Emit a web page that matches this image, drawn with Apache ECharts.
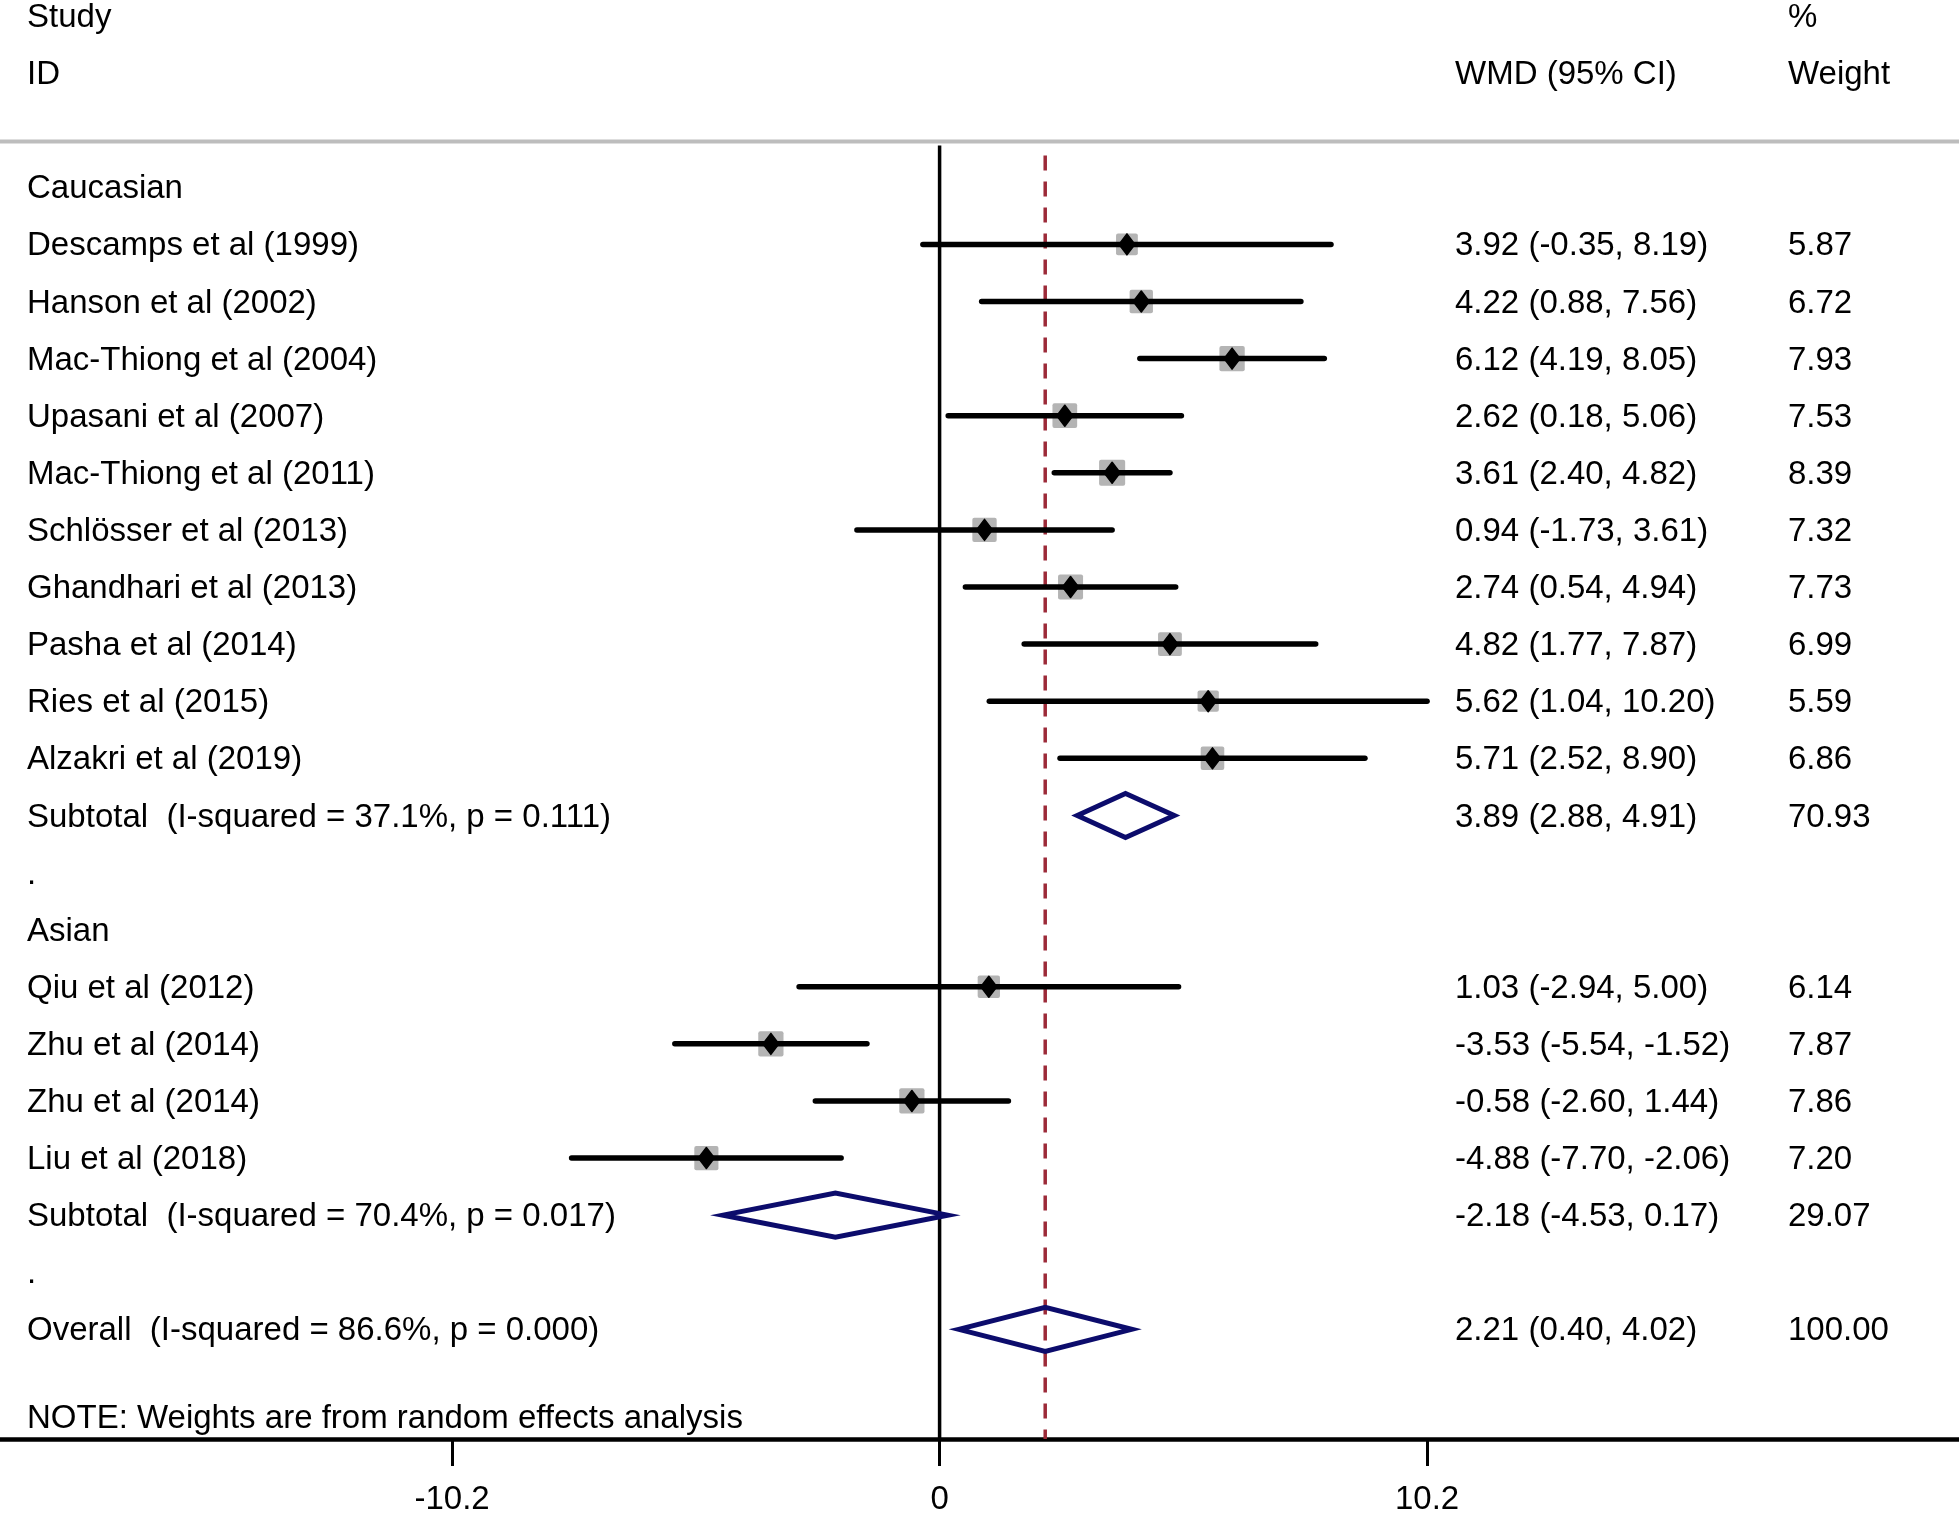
<!DOCTYPE html>
<html>
<head>
<meta charset="utf-8">
<script src="https://cdn.jsdelivr.net/npm/echarts@6/dist/echarts.min.js"></script>
<style>
html, body { margin: 0; padding: 0; background: #fff; }
#chart { width: 1959px; height: 1516px; }
</style>
</head>
<body>
<div id="chart"></div>
<script>
// study data (WMD, 95% CI, % weight)
var groupNames = ['Caucasian', 'Asian'];

var cauStudies = ['Descamps et al (1999)', 'Hanson et al (2002)', 'Mac-Thiong et al (2004)', 'Upasani et al (2007)',
	'Mac-Thiong et al (2011)', 'Schlösser et al (2013)', 'Ghandhari et al (2013)', 'Pasha et al (2014)',
	'Ries et al (2015)', 'Alzakri et al (2019)'];
var cauEst = [3.92, 4.22, 6.12, 2.62, 3.61, 0.94, 2.74, 4.82, 5.62, 5.71];
var cauLow = [-0.35, 0.88, 4.19, 0.18, 2.40, -1.73, 0.54, 1.77, 1.04, 2.52];
var cauHigh = [8.19, 7.56, 8.05, 5.06, 4.82, 3.61, 4.94, 7.87, 10.20, 8.90];
var cauWeight = [5.87, 6.72, 7.93, 7.53, 8.39, 7.32, 7.73, 6.99, 5.59, 6.86];

var asiStudies = ['Qiu et al (2012)', 'Zhu et al (2014)', 'Zhu et al (2014)', 'Liu et al (2018)'];
var asiEst = [1.03, -3.53, -0.58, -4.88];
var asiLow = [-2.94, -5.54, -2.60, -7.70];
var asiHigh = [5.00, -1.52, 1.44, -2.06];
var asiWeight = [6.14, 7.87, 7.86, 7.20];

// pooled: Caucasian subtotal, Asian subtotal, overall
var pooledLabels = ['Subtotal  (I-squared = 37.1%, p = 0.111)', 'Subtotal  (I-squared = 70.4%, p = 0.017)',
	'Overall  (I-squared = 86.6%, p = 0.000)'];
var pooledEst = [3.89, -2.18, 2.21];
var pooledLow = [2.88, -4.53, 0.40];
var pooledHigh = [4.91, 0.17, 4.02];
var pooledWeight = [70.93, 29.07, 100.00];

var tickValues = [-10.2, 0, 10.2];
var noteText = 'NOTE: Weights are from random effects analysis';

// layout
var W = 1959;
var FONT = '33px "Liberation Sans", Arial, sans-serif';
var colX = [27, 1455, 1788];
var AXIS_ROW = 21.92;

function ci(e, l, h){
	return e.toFixed(2) + ' (' + l.toFixed(2) + ', ' + h.toFixed(2) + ')';
}

// build the rows, one per line of the plot
var rows = [];
rows.push({y: -3, cells: ['Study', '', '%']});
rows.push({y: -2, cells: ['ID', 'WMD (95% CI)', 'Weight']});
rows.push({y: -0.8, kind: 'rule', cells: []});

var yy = 0;
function addGroup(g, names, est, low, high, wt){
	rows.push({y: yy++, cells: [groupNames[g]]});
	for(var i=0; i<names.length; i++){
		rows.push({y: yy++, kind: 'study', est: est[i], lo: low[i], hi: high[i], w: wt[i],
			cells: [names[i], ci(est[i], low[i], high[i]), wt[i].toFixed(2)]});
	}
	rows.push({y: yy++, kind: 'pooled', est: pooledEst[g], lo: pooledLow[g], hi: pooledHigh[g],
		cells: [pooledLabels[g], ci(pooledEst[g], pooledLow[g], pooledHigh[g]), pooledWeight[g].toFixed(2)]});
	rows.push({y: yy++, cells: ['.']});
}
addGroup(0, cauStudies, cauEst, cauLow, cauHigh, cauWeight);
addGroup(1, asiStudies, asiEst, asiLow, asiHigh, asiWeight);
rows.push({y: yy++, kind: 'pooled', est: pooledEst[2], lo: pooledLow[2], hi: pooledHigh[2],
	cells: [pooledLabels[2], ci(pooledEst[2], pooledLow[2], pooledHigh[2]), pooledWeight[2].toFixed(2)]});
rows.push({y: 21.53, cells: [noteText]});

function txt(s, x, y){
	return {type: 'text', style: {text: s, x: x, y: y + 2, font: FONT, fill: '#000',
		textAlign: 'left', textVerticalAlign: 'middle', align: 'left', verticalAlign: 'middle'}};
}

function renderRow(params, api){
	var r = rows[api.value(1)];
	var cy = api.coord([0, r.y])[1];
	var kids = [];
	if(r.kind === 'rule'){
		kids.push({type: 'line', shape: {x1: 0, y1: cy, x2: W, y2: cy}, style: {stroke: '#bdbdbd', lineWidth: 4}});
	}
	if(r.kind === 'study'){
		var pE = api.coord([r.est, r.y])[0];
		var pL = api.coord([r.lo, r.y])[0];
		var pH = api.coord([r.hi, r.y])[0];
		var side = 9 * Math.sqrt(r.w);
		kids.push({type: 'rect', shape: {x: pE - side/2, y: cy - side/2, width: side, height: side, r: 2},
			style: {fill: '#b4b4b4'}});
		kids.push({type: 'line', shape: {x1: pL, y1: cy, x2: pH, y2: cy},
			style: {stroke: '#000', lineWidth: 5.5, lineCap: 'round'}});
		kids.push({type: 'polygon', shape: {points: [[pE-8, cy], [pE, cy-10.5], [pE+8, cy], [pE, cy+10.5]]},
			style: {fill: '#000', stroke: '#000', lineWidth: 1.5, lineJoin: 'round'}});
	}
	if(r.kind === 'pooled'){
		var qE = api.coord([r.est, r.y])[0];
		var qL = api.coord([r.lo, r.y])[0];
		var qH = api.coord([r.hi, r.y])[0];
		kids.push({type: 'polygon', shape: {points: [[qL, cy], [qE, cy-22], [qH, cy], [qE, cy+22]]},
			style: {fill: 'none', stroke: '#0c0c6c', lineWidth: 5}});
	}
	for(var c=0; c<r.cells.length; c++){
		if(r.cells[c]) kids.push(txt(r.cells[c], colX[c], cy));
	}
	return {type: 'group', children: kids};
}

function renderRef(params, api){
	var x = api.coord([api.value(0), 0])[0];
	var top = api.coord([0, -0.73])[1];
	var bot = api.coord([0, AXIS_ROW])[1];
	var dashed = api.value(1) === 1;
	return {type: 'line', shape: {x1: x, y1: top, x2: x, y2: bot},
		style: dashed ? {stroke: '#9c2a38', lineWidth: 3.5, lineDash: [15, 11], lineDashOffset: -10}
			: {stroke: '#000', lineWidth: 3.5}};
}

var myChart = echarts.init(document.getElementById('chart'));

option = {
	animation: false,
	backgroundColor: '#fff',
	grid: {left: 0, right: 0, top: 0, bottom: 71},
	xAxis: {
		type: 'value',
		min: -19.66,
		max: 21.33,
		splitLine: {show: false},
		axisLine: {show: true, onZero: false, lineStyle: {color: '#000', width: 4.5}},
		axisTick: {show: true, customValues: tickValues, length: 27, lineStyle: {color: '#000', width: 3}},
		axisLabel: {customValues: tickValues, margin: 44, color: '#000', fontSize: 33,
			fontFamily: '"Liberation Sans", Arial, sans-serif',
			formatter: function(v){ return v === 0 ? '0' : String(v); }}
	},
	yAxis: {
		type: 'value',
		min: -3.28,
		max: AXIS_ROW,
		inverse: true,
		show: false
	},
	series: [
		{
			type: 'custom',
			renderItem: renderRef,
			data: [[0, 0], [pooledEst[2], 1]],
			z: 1,
			silent: true
		},
		{
			type: 'custom',
			renderItem: renderRow,
			encode: {y: 0},
			data: rows.map(function(r, i){ return [r.y, i]; }),
			z: 2,
			silent: true
		}
	]
};
myChart.setOption(option);
</script>
</body>
</html>
